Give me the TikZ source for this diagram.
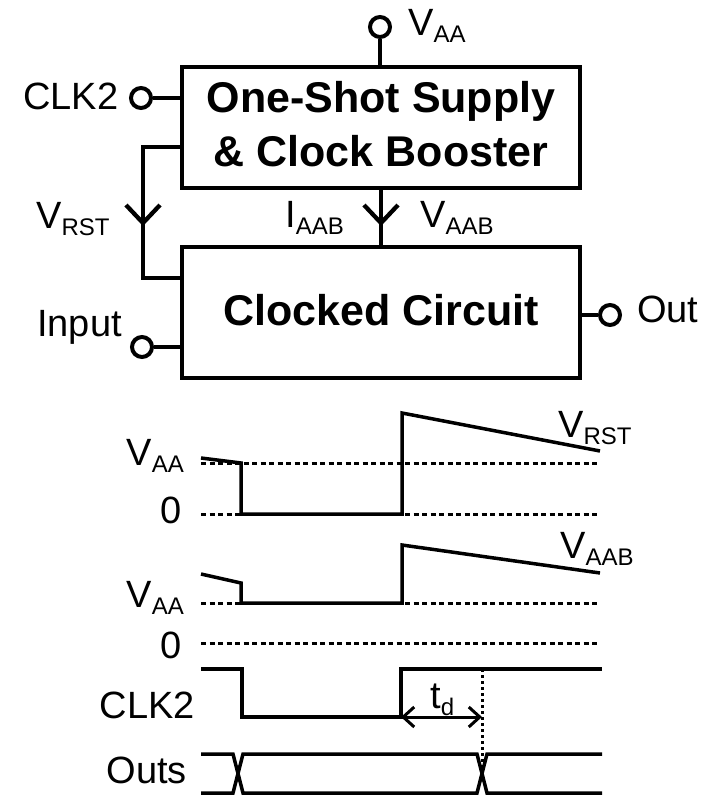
\documentclass[tikz,border=0pt]{standalone}
\usepackage{fontspec}
\setmainfont{Liberation Sans}
\usetikzlibrary{arrows.meta,calc}
\newcommand\lsub[1]{\raisebox{-7pt}{\fontsize{24}{24}\selectfont #1}}
\tikzset{
  blk/.style={draw, line width=4.3pt, inner sep=0pt},
  wire/.style={line width=4.3pt},
  term/.style={circle, draw, line width=4pt, minimum size=20pt, inner sep=0pt},
  lbl/.style={inner sep=0pt, font=\fontsize{38}{40}\selectfont},
  btxt/.style={inner sep=0pt, font=\fontsize{43}{50}\selectfont\bfseries},
  wave/.style={line width=3.5pt, line join=miter},
  refline/.style={line width=3pt, dash pattern=on 5pt off 3.5pt},
  dotline/.style={line width=3pt, dash pattern=on 3pt off 3pt},
  meas/.style={line width=3pt, {Straight Barb[length=11pt,width=20pt]}-{Straight Barb[length=11pt,width=20pt]}},
}
\begin{document}
\begin{tikzpicture}[x=1pt,y=-1pt]
\useasboundingbox (0,0) rectangle (715,796);
% ---------- block diagram ----------
\node[blk, minimum width=398pt, minimum height=121pt] (osb) at (381,127.5) {};
\node[blk, minimum width=398pt, minimum height=131pt] (cc) at (381,312.5) {};
\node[btxt, anchor=base] (t1) at (381,112) {One-Shot Supply};
\node[btxt, anchor=base] (t2) at (381,166) {\& Clock Booster};
\node[btxt, anchor=base] (t3) at (381,325) {Clocked Circuit};

\node[term] (tvaa) at (380,27) {};
\node[term] (tclk) at (141,98) {};
\node[term] (tin) at (142,347) {};
\node[term] (tout) at (610,315) {};

\draw[wire] (tvaa) -- (tvaa |- osb.north);
\draw[wire] (tclk) -- (tclk -| osb.west);
\draw[wire] (tin) -- (tin -| cc.west);
\draw[wire] (tout) -- (tout -| cc.east);

\coordinate (vrA) at (143,147);
\coordinate (vrB) at (143,278);
\coordinate (arR) at (143,223);
\draw[wire, line join=miter] (osb.west |- vrA) -- (vrA) -- (vrB) -- (cc.west |- vrB);
\draw[wire, line join=round] ($(arR)+(-17,-18)$) -- (arR) -- ($(arR)+(17,-18)$);

\coordinate (arM) at (381,223);
\draw[wire] (osb.south) -- (cc.north);
\draw[wire, line join=round] ($(arM)+(-17,-18)$) -- (arM) -- ($(arM)+(17,-18)$);

\node[lbl, anchor=base west] (lvaa) at (408,35) {V\lsub{AA}};
\node[lbl, anchor=base west] (lclk) at (23,109) {CLK2};
\node[lbl, anchor=base west] (lvrst) at (36,228) {V\lsub{RST}};
\node[lbl, anchor=base west] (liaab) at (285,227) {I\lsub{AAB}};
\node[lbl, anchor=base west] (lvaab) at (420,227) {V\lsub{AAB}};
\node[lbl, anchor=base west] (lin) at (37,336) {Input};
\node[lbl, anchor=base west] (lout) at (637,322) {Out};

% ---------- timing diagram ----------
\draw[refline] (201,463) -- (600,463);
\draw[refline] (201,514) -- (600,514);
\draw[wave] (201,458) -- (241,463) -- (241,514) -- (402,514) -- (402,413) -- (600,451);

\draw[refline] (201,603) -- (600,603);
\draw[refline] (201,643) -- (600,643);
\draw[wave] (201,574) -- (241,583) -- (241,603) -- (402,603) -- (402,545) -- (600,573);

\draw[wave] (201,669) -- (242,669) -- (242,717) -- (401,717) -- (401,669) -- (602,669);
\coordinate (tdA) at (401,717);
\coordinate (tdB) at (482,717);
\draw[meas] (tdA) -- (tdB);
\draw[dotline] (482,669) -- (482,772);

\draw[wave] (201,754) -- (233,754) -- (243,793) -- (477,793) -- (487,754) -- (602,754);
\draw[wave] (201,793) -- (233,793) -- (243,754) -- (477,754) -- (487,793) -- (602,793);

\node[lbl, anchor=base east] (w1) at (184,465) {V\lsub{AA}};
\node[lbl, anchor=base east] (w2) at (182,523) {0};
\node[lbl, anchor=base east] (w3) at (184,607) {V\lsub{AA}};
\node[lbl, anchor=base east] (w4) at (182,658) {0};
\node[lbl, anchor=base east] (w5) at (195,718) {CLK2};
\node[lbl, anchor=base east] (w6) at (187,783) {Outs};
\node[lbl, anchor=base west] (w7) at (558,437) {V\lsub{RST}};
\node[lbl, anchor=base west] (w8) at (560,558) {V\lsub{AAB}};
\node[lbl, anchor=base west] (w9) at (430,708) {t\lsub{d}};
\end{tikzpicture}
\end{document}
